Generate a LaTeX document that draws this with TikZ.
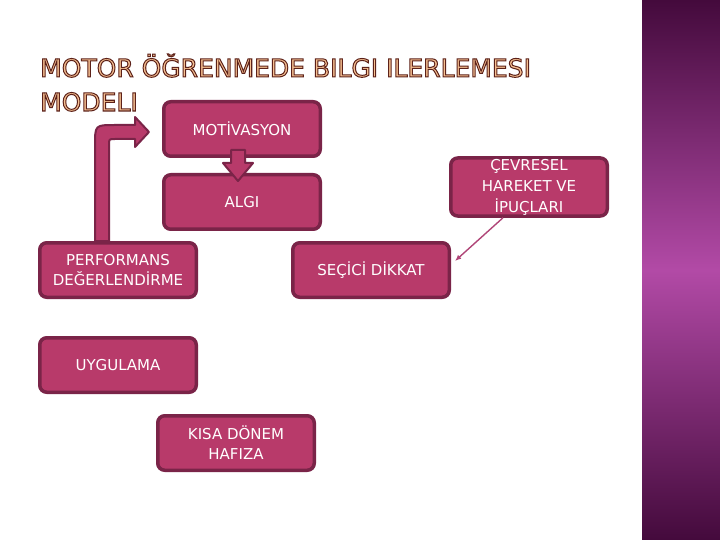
\documentclass[tikz,border=0pt]{standalone}
\usepackage{fontspec}
\setmainfont{DejaVu Sans}
\usetikzlibrary{arrows.meta,positioning}

\definecolor{boxfill}{RGB}{184,58,106}
\definecolor{boxline}{RGB}{122,36,72}
\definecolor{titlefill}{RGB}{246,192,146}
\definecolor{cuecol}{RGB}{176,70,120}
\definecolor{bartop}{RGB}{68,10,60}
\definecolor{barmid}{RGB}{178,74,166}
\newcommand{\outlined}[1]{\color{titlefill}\special{pdf:literal direct 2 Tr 1 w 0.36 0.13 0.10 RG}#1\special{pdf:literal direct 0 Tr}}

\begin{document}
\begin{tikzpicture}[x=1pt, y=-1pt,
  box/.style={draw=boxline, fill=boxfill, line width=3.5pt, rounded corners=7pt, align=center,
    minimum width=156.5pt, minimum height=54.5pt, inner sep=2pt, text=white,
    font=\fontsize{15}{20}\selectfont},
  titletext/.style={inner sep=0pt, anchor=base west, font=\fontsize{25}{30}\selectfont},
  blockar/.style={fill=boxfill, draw=boxline, line width=2pt, line join=round},
  cue/.style={-{Latex[length=2.2mm, width=1.8mm]}, draw=cuecol, line width=1.4pt}]

\useasboundingbox (0,0) rectangle (720,540);
\fill[white] (0,0) rectangle (720,540);
\shade[top color=bartop, bottom color=bartop, middle color=barmid] (642,0) rectangle (720,540);

\node[titletext] (title1) at (40,77) {\outlined{MOTOR ÖĞRENMEDE BILGI ILERLEMESI}};
\node[titletext] (title2) at (40,111) {\outlined{MODELI}};

\node[box] (mot) at (242,129) {MOTİVASYON};
\node[box, below=15pt of mot] (alg) {ALGI};
\node[box, right=127pt of alg, yshift=15pt, inner sep=1pt, font=\fontsize{15}{21}\selectfont] (cev) {ÇEVRESEL\\HAREKET VE\\İPUÇLARI};
\node[box] (perf) at (118,270) {PERFORMANS\\DEĞERLENDİRME};
\node[box, right=93pt of perf] (sec) {SEÇİCİ DİKKAT};
\node[box, below=37pt of perf] (uyg) {UYGULAMA};
\node[box, below=20pt of uyg, xshift=118pt] (kisa) {KISA DÖNEM\\HAFIZA};

\begin{scope}[shift={(mot.south)}]
  \draw[blockar] (-11,-8) -- (3,-8) -- (3,5) -- (11,5) -- (-4,23) -- (-19,5) -- (-11,5) -- cycle;
\end{scope}

\begin{scope}[shift={(perf.north)}]
  \draw[blockar] (-23,0) -- (-23,-95.5) .. controls (-23,-116) .. (-3,-116) -- (17,-116)
    -- (17,-124) -- (31,-109) -- (17,-94) -- (17,-102) -- (-3,-102)
    .. controls (-9,-102) .. (-9,-96) -- (-9,0) -- cycle;
\end{scope}

\coordinate (hint) at (455,261);
\draw[cue] ([xshift=-26pt]cev.south) -- (hint);
\end{tikzpicture}
\end{document}
